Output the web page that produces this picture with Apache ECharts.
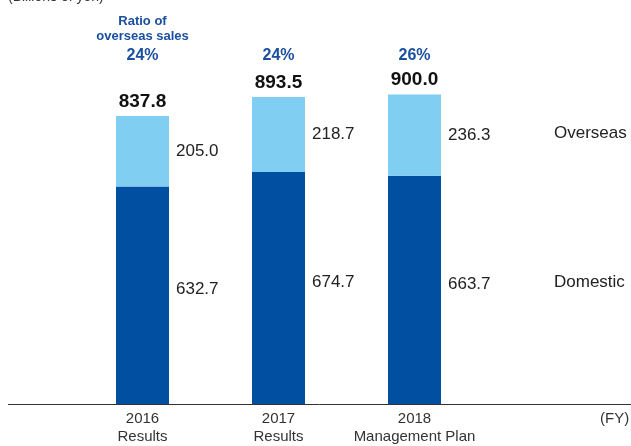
<!DOCTYPE html>
<html>
<head>
<meta charset="utf-8">
<script src="https://cdn.jsdelivr.net/npm/echarts@6/dist/echarts.min.js"></script>
<style>
  html, body { margin: 0; padding: 0; background: #fff; }
  #main { width: 631px; height: 446px; }
</style>
</head>
<body>
<div id="main"></div>
<script>
// data
let years = ['2016', '2017', '2018'];
let kinds = ['Results', 'Results', 'Management Plan'];
let domestic = [632.7, 674.7, 663.7];
let overseas = [205.0, 218.7, 236.3];
let totals = [837.8, 893.5, 900.0];
let ratios = ['24%', '24%', '26%'];

let font = '"Liberation Sans", Arial, sans-serif';
let blue = '#1a4fa0';

let catLabels = years.map((y, i) => y + '\n' + kinds[i]);
let topLabels = ratios.map((r, i) => i == 0 ? '{t|Ratio of}\n{t|overseas sales}\n{p|' + r + '}' : '{p|' + r + '}');

let option = {
    animation: false,
    grid: {left: 74.5, right: 148.5, top: 74, bottom: 42},
    xAxis: [{
        type: 'category',
        data: catLabels,
        axisLine: {show: false},
        axisTick: {show: false},
        axisLabel: {interval: 0, fontFamily: font, fontSize: 15, color: '#333', lineHeight: 18, margin: 6}
    }, {
        type: 'category',
        position: 'top',
        data: topLabels,
        axisLine: {show: false},
        axisTick: {show: false},
        axisLabel: {
            interval: 0,
            margin: 6,
            rich: {
                t: {fontFamily: font, fontSize: 13, fontWeight: 'bold', color: blue, lineHeight: 15},
                p: {fontFamily: font, fontSize: 16, fontWeight: 'bold', color: blue, lineHeight: 24}
            }
        }
    }],
    yAxis: {type: 'value', min: 0, max: 960, show: false},
    series: [{
        type: 'bar',
        name: 'Domestic',
        stack: 'sales',
        barWidth: 53,
        data: domestic,
        itemStyle: {color: '#004fa1'},
        label: {show: true, position: 'right', distance: 7, offset: [0, -6],
            fontFamily: font, fontSize: 17, color: '#222',
            formatter: p => p.value.toFixed(1)}
    }, {
        type: 'bar',
        name: 'Overseas',
        stack: 'sales',
        barWidth: 53,
        data: overseas,
        itemStyle: {color: '#80cef2'},
        label: {show: true, position: 'right', distance: 7,
            fontFamily: font, fontSize: 17, color: '#222',
            formatter: p => p.value.toFixed(1)}
    }, {
        type: 'bar',
        name: 'Total',
        barWidth: 53,
        barGap: '-100%',
        z: 1,
        data: totals,
        itemStyle: {color: 'rgba(0,0,0,0)'},
        label: {show: true, position: 'top', distance: 5,
            fontFamily: font, fontSize: 19, fontWeight: 'bold', color: '#111',
            formatter: p => p.value.toFixed(1)}
    }],
    graphic: [
        {type: 'line', shape: {x1: 8, y1: 404.5, x2: 631, y2: 404.5}, style: {stroke: '#333', lineWidth: 1}},
        {type: 'text', left: 8, top: -10, style: {text: '(Billions of yen)', font: '14px ' + font, fill: '#333'}},
        {type: 'text', left: 554, top: 125, style: {text: 'Overseas', font: '17px ' + font, fill: '#222'}},
        {type: 'text', left: 554, top: 274, style: {text: 'Domestic', font: '17px ' + font, fill: '#222'}},
        {type: 'text', left: 600, top: 411, style: {text: '(FY)', font: '15px ' + font, fill: '#333'}}
    ]
};

let chart = echarts.init(document.getElementById('main'));
chart.setOption(option);
</script>
</body>
</html>
